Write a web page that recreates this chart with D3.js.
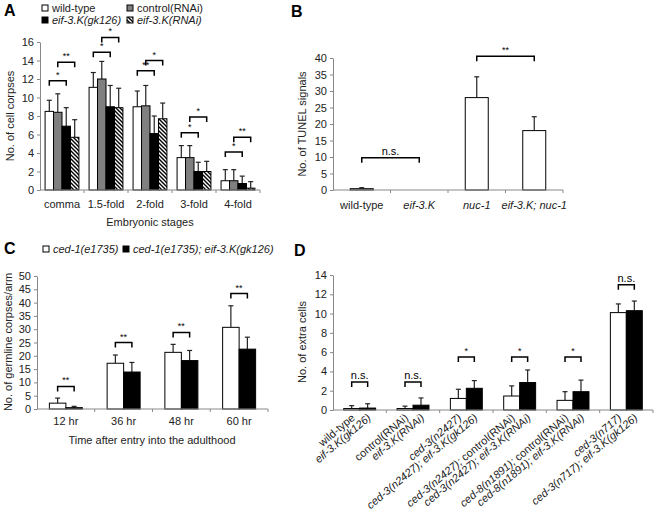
<!DOCTYPE html>
<html>
<head>
<meta charset="utf-8">
<script src="https://cdn.jsdelivr.net/npm/d3@7"></script>
<style>
  body { margin: 0; background: #fff; }
  svg { font-family: "Liberation Sans", Arial, sans-serif; }
  .tick text { font-size: 11px; fill: #222; }
  .lbl { font-size: 11px; fill: #222; }
</style>
</head>
<body>
<svg id="fig" width="656" height="525"></svg>
<script>
// ---- data: panel A ----
var stagesA = ["comma", "1.5-fold", "2-fold", "3-fold", "4-fold"];
var seriesA = ["wild-type", "control(RNAi)", "eif-3.K(gk126)", "eif-3.K(RNAi)"];
var meanA = [
  [8.5, 11.1, 9.0, 3.5, 1.0],
  [8.4, 12.0, 9.1, 3.5, 1.0],
  [6.9, 9.0, 6.1, 2.0, 0.7],
  [5.7, 8.9, 7.7, 2.0, 0.2]
];
var errA = [
  [1.2, 1.6, 1.7, 1.3, 1.2],
  [2.0, 1.9, 2.2, 1.3, 1.2],
  [2.0, 2.3, 1.9, 1.0, 0.8],
  [1.9, 2.1, 1.7, 1.1, 0.7]
];
// [stage, series a, series b, level, mark]
var sigA = [
  [0, 0, 2, 11.8, "*"], [0, 1, 3, 13.8, "**"],
  [1, 0, 2, 14.9, "*"], [1, 1, 3, 16.5, "*"],
  [2, 0, 2, 12.9, "**"], [2, 1, 3, 14.0, "*"],
  [3, 0, 2, 6.2, "*"], [3, 1, 3, 7.9, "*"],
  [4, 0, 2, 4.1, "*"], [4, 1, 3, 5.7, "**"]
];

// ---- data: panel B ----
var strainsB = ["wild-type", "eif-3.K", "nuc-1", "eif-3.K; nuc-1"];
var meanB = [0.4, 0, 28, 18];
var errB = [0.3, 0, 6.3, 4.2];
var sigB = [[0, 1, 9.8, "n.s."], [2, 3, 40.5, "**"]];

// ---- data: panel C ----
var timesC = ["12 hr", "36 hr", "48 hr", "60 hr"];
var seriesC = ["ced-1(e1735)", "ced-1(e1735); eif-3.K(gk126)"];
var meanC = [
  [2.2, 17.2, 21.3, 30.7],
  [0.5, 13.9, 18.2, 22.5]
];
var errC = [
  [1.9, 3.1, 3.0, 8.1],
  [0.5, 3.6, 3.8, 4.5]
];
var sigC = [8.5, 25.0, 28.8, 43.4];

// ---- data: panel D ----
var pairsD = [
  ["wild-type", "eif-3.K(gk126)"],
  ["control(RNAi)", "eif-3.K(RNAi)"],
  ["ced-3(n2427)", "ced-3(n2427); eif-3.K(gk126)"],
  ["ced-3(n2427); control(RNAi)", "ced-3(n2427); eif-3.K(RNAi)"],
  ["ced-8(n1891); control(RNAi)", "ced-8(n1891); eif-3.K(RNAi)"],
  ["ced-3(n717)", "ced-3(n717); eif-3.K(gk126)"]
];
var meanD = [
  [0.15, 0.15, 1.2, 1.45, 1.0, 10.1],
  [0.2, 0.5, 2.25, 2.85, 1.9, 10.3]
];
var errD = [
  [0.3, 0.25, 0.95, 1.05, 0.9, 0.9],
  [0.45, 0.75, 0.8, 1.3, 1.2, 1.0]
];
var sigD = [[2.9, "n.s."], [2.9, "n.s."], [5.5, "*"], [5.5, "*"], [5.5, "*"], [13.0, "n.s."]];

var plain = ["wild-type", "control(RNAi)"];
var fills = ["#fff", "#808080", "#000", "url(#hatch)"];

var svg = d3.select("#fig");

var defs = svg.append("defs");
defs.append("pattern")
    .attr("id", "hatch")
    .attr("patternUnits", "userSpaceOnUse")
    .attr("width", 4).attr("height", 4)
  .append("path")
    .attr("d", "M-1,-1 L5,5 M-1,3 L1,5 M3,-1 L5,1")
    .attr("stroke", "#000")
    .attr("stroke-width", 1.4);

// writes a label, gene names in italics
function richText(sel, str) {
    var parts = str.split("; ");
    parts.forEach(function(p, i) {
        var t = i < parts.length - 1 ? p + "; " : p;
        sel.append("tspan")
            .style("font-style", plain.indexOf(p) >= 0 ? "normal" : "italic")
            .text(t);
    });
}

function panelLetter(x, y, s) {
    svg.append("text").attr("x", x).attr("y", y)
        .style("font-size", "16px").style("font-weight", "bold")
        .text(s);
}

function yAxis(g, y, ticks, x0) {
    var ax = g.append("g").attr("transform", "translate(" + x0 + ",0)")
        .call(d3.axisLeft(y).tickValues(ticks).tickSize(3).tickSizeOuter(0).tickPadding(3));
    ax.selectAll("line").attr("stroke", "#888");
    ax.select(".domain").attr("stroke", "#888");
    ax.selectAll("text").style("font-size", "11px");
}

function xAxis(g, x, y0, labelY, rich) {
    var cats = x.domain();
    g.append("line").attr("x1", x.range()[0]).attr("x2", x.range()[1])
        .attr("y1", y0).attr("y2", y0).attr("stroke", "#888");
    var edges = cats.map(function(c) { return x(c); }).concat([x.range()[1]]);
    g.selectAll(".xt").data(edges.slice(1)).enter().append("line")
        .attr("x1", function(d) { return d; }).attr("x2", function(d) { return d; })
        .attr("y1", y0).attr("y2", y0 + 3).attr("stroke", "#888");
    if (labelY == null) return;
    g.selectAll(".xl").data(cats).enter().append("text")
        .attr("class", "lbl")
        .attr("x", function(d) { return x(d) + x.bandwidth() / 2; })
        .attr("y", labelY)
        .attr("text-anchor", "middle")
        .each(function(d) {
            if (rich) richText(d3.select(this), d);
            else d3.select(this).text(d);
        });
}

function yTitle(x, yc, s) {
    svg.append("text").attr("class", "lbl")
        .attr("transform", "translate(" + x + "," + yc + ") rotate(-90)")
        .attr("text-anchor", "middle")
        .text(s);
}

function bracket(g, xa, xb, yy, mark) {
    g.append("path")
        .attr("d", "M" + xa + "," + (yy + 5) + "V" + yy + "H" + xb + "V" + (yy + 5))
        .attr("fill", "none").attr("stroke", "#000").attr("stroke-width", 1.5);
    g.append("text").attr("x", (xa + xb) / 2).attr("y", yy - 3)
        .attr("text-anchor", "middle")
        .style("font-size", mark == "n.s." ? "11px" : "9px")
        .text(mark);
}

function bars(g, data, xpos, w, y, fill) {
    // data: [{x, v, e}]
    g.selectAll(null).data(data).enter().append("line")
        .attr("x1", function(d) { return xpos(d) + w / 2; })
        .attr("x2", function(d) { return xpos(d) + w / 2; })
        .attr("y1", function(d) { return y(d.v); })
        .attr("y2", function(d) { return y(d.v + d.e); })
        .attr("stroke", "#222").attr("stroke-width", 1.2);
    g.selectAll(null).data(data.filter(function(d) { return d.e > 0; })).enter().append("line")
        .attr("x1", function(d) { return xpos(d) + w / 2 - 2.5; })
        .attr("x2", function(d) { return xpos(d) + w / 2 + 2.5; })
        .attr("y1", function(d) { return y(d.v + d.e); })
        .attr("y2", function(d) { return y(d.v + d.e); })
        .attr("stroke", "#222").attr("stroke-width", 1.2);
    g.selectAll(null).data(data.filter(function(d) { return d.v > 0; })).enter().append("rect")
        .attr("x", xpos)
        .attr("y", function(d) { return y(d.v); })
        .attr("width", w)
        .attr("height", function(d) { return y(0) - y(d.v); })
        .attr("fill", fill).attr("stroke", "#000").attr("stroke-width", 1);
}

// ================= Panel A =================
(function() {
    var g = svg.append("g");
    var x = d3.scaleBand().domain(stagesA).range([40, 260]);
    var xs = d3.scaleBand().domain(d3.range(4)).range([0, x.bandwidth()]).paddingOuter(0.6);
    var y = d3.scaleLinear().domain([0, 16]).range([190, 42]);
    yAxis(g, y, d3.range(0, 17, 2), 40);
    seriesA.forEach(function(s, i) {
        var data = stagesA.map(function(c, j) { return {c: c, v: meanA[i][j], e: errA[i][j]}; });
        bars(g, data, function(d) { return x(d.c) + xs(i); }, xs.bandwidth(), y, fills[i]);
    });
    xAxis(g, x, 190, 208, false);
    sigA.forEach(function(s) {
        var c = stagesA[s[0]];
        bracket(g, x(c) + xs(s[1]) + xs.bandwidth() / 2, x(c) + xs(s[2]) + xs.bandwidth() / 2, y(s[3]), s[4]);
    });
    yTitle(14, 116, "No. of cell corpses");
    g.append("text").attr("class", "lbl").attr("x", 150).attr("y", 226)
        .attr("text-anchor", "middle").text("Embryonic stages");
    panelLetter(4, 16, "A");
    var leg = g.selectAll(".legA").data(seriesA).enter().append("g")
        .attr("transform", function(d, i) { return "translate(" + (i % 2 ? 127 : 42) + "," + (i < 2 ? 8 : 20) + ")"; });
    leg.append("rect").attr("x", 0).attr("y", -3).attr("width", 6).attr("height", 6)
        .attr("fill", function(d, i) { return fills[i]; })
        .attr("stroke", "#000").attr("stroke-width", 1);
    leg.append("text").attr("class", "lbl").attr("x", 10).attr("y", 4)
        .each(function(d) { richText(d3.select(this), d); });
})();

// ================= Panel B =================
(function() {
    var g = svg.append("g");
    var x = d3.scaleBand().domain(strainsB).range([333, 563]);
    var y = d3.scaleLinear().domain([0, 40]).range([190, 58]);
    var w = x.bandwidth() * 0.4;
    yAxis(g, y, d3.range(0, 41, 5), 333);
    var data = strainsB.map(function(c, j) { return {c: c, v: meanB[j], e: errB[j]}; });
    bars(g, data, function(d) { return x(d.c) + (x.bandwidth() - w) / 2; }, w, y, "#fff");
    xAxis(g, x, 190, 209, true);
    sigB.forEach(function(s) {
        bracket(g, x(strainsB[s[0]]) + x.bandwidth() / 2, x(strainsB[s[1]]) + x.bandwidth() / 2, y(s[2]), s[3]);
    });
    yTitle(306, 124, "No. of TUNEL signals");
    panelLetter(291, 17, "B");
})();

// ================= Panel C =================
(function() {
    var g = svg.append("g");
    var x = d3.scaleBand().domain(timesC).range([37, 268]);
    var xs = d3.scaleBand().domain(d3.range(2)).range([0, x.bandwidth()]).paddingOuter(0.75);
    var y = d3.scaleLinear().domain([0, 50]).range([409, 276]);
    yAxis(g, y, d3.range(0, 51, 5), 37);
    seriesC.forEach(function(s, i) {
        var data = timesC.map(function(c, j) { return {c: c, v: meanC[i][j], e: errC[i][j]}; });
        bars(g, data, function(d) { return x(d.c) + xs(i); }, xs.bandwidth(), y, i ? "#000" : "#fff");
    });
    xAxis(g, x, 409, 425, false);
    sigC.forEach(function(v, j) {
        var c = timesC[j];
        bracket(g, x(c) + xs(0) + xs.bandwidth() / 2, x(c) + xs(1) + xs.bandwidth() / 2, y(v), "**");
    });
    yTitle(12, 342, "No. of germline corpses/arm");
    g.append("text").attr("class", "lbl").attr("x", 152).attr("y", 444)
        .attr("text-anchor", "middle").text("Time after entry into the adulthood");
    panelLetter(4, 254, "C");
    var leg = g.selectAll(".legC").data(seriesC).enter().append("g")
        .attr("transform", function(d, i) { return "translate(" + (i ? 123 : 43) + ",249)"; });
    leg.append("rect").attr("x", 0).attr("y", -3).attr("width", 6).attr("height", 6)
        .attr("fill", function(d, i) { return i ? "#000" : "#fff"; })
        .attr("stroke", "#000").attr("stroke-width", 1);
    leg.append("text").attr("class", "lbl").attr("x", 10).attr("y", 4)
        .style("font-style", "italic").text(function(d) { return d; });
})();

// ================= Panel D =================
(function() {
    var g = svg.append("g");
    var groups = pairsD.map(function(p, i) { return "g" + i; });
    var x = d3.scaleBand().domain(groups).range([333, 653]);
    var xs = d3.scaleBand().domain(d3.range(2)).range([0, x.bandwidth()]).paddingOuter(0.67);
    var y = d3.scaleLinear().domain([0, 14]).range([410, 275]);
    yAxis(g, y, d3.range(0, 15, 2), 333);
    [0, 1].forEach(function(i) {
        var data = groups.map(function(c, j) { return {c: c, v: meanD[i][j], e: errD[i][j]}; });
        bars(g, data, function(d) { return x(d.c) + xs(i); }, xs.bandwidth(), y, i ? "#000" : "#fff");
    });
    xAxis(g, x, 410, null);
    sigD.forEach(function(s, j) {
        var c = groups[j];
        bracket(g, x(c) + xs(0) + xs.bandwidth() / 2, x(c) + xs(1) + xs.bandwidth() / 2, y(s[0]), s[1]);
    });
    pairsD.forEach(function(p, j) {
        p.forEach(function(lab, i) {
            var cx = x(groups[j]) + xs(i) + xs.bandwidth() / 2 + 4;
            var t = g.append("text").attr("class", "lbl")
                .attr("transform", "translate(" + cx + ",419) rotate(-40)")
                .attr("text-anchor", "end");
            richText(t, lab);
        });
    });
    yTitle(306, 342, "No. of extra cells");
    panelLetter(294, 256, "D");
})();
</script>
</body>
</html>
